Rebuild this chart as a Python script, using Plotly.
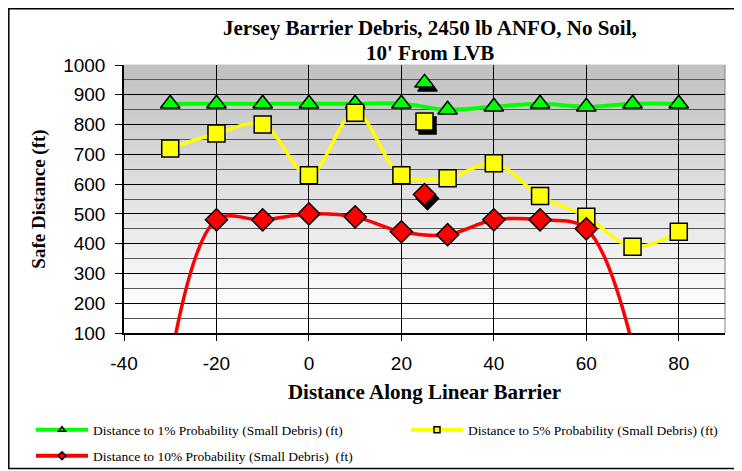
import plotly.graph_objects as go

# ---------------- data ----------------
x_pos = [-30, -20, -10, 0, 10, 20, 30, 40, 50, 60, 70, 80]
p1_small = [870, 870, 870, 870, 870, 870, 850, 860, 870, 860, 870, 870]
p5_small = [720, 770, 800, 630, 840, 630, 620, 670, 560, 490, 390, 440]
p10_small = [0, 480, 480, 500, 490, 440, 430, 480, 480, 450, 60, None]

x_special = [25]
p1_special = [940]
p5_special = [810]
p10_special = [565]

x_tick_vals = [-40, -20, 0, 20, 40, 60, 80]
x_tick_text = ["-40", "-20", "0", "20", "40", "60", "80"]

names = ["Distance to 1% Probability (Small Debris) (ft)",
         "Distance to 5% Probability (Small Debris) (ft)",
         "Distance to 10% Probability (Small Debris)  (ft)"]

title_lines = ["<b>Jersey Barrier Debris, 2450 lb ANFO, No Soil,</b>", "<b>10' From LVB</b>"]
x_title = "<b>Distance Along Linear Barrier</b>"
y_title = "<b>Safe Distance (ft)</b>"

# ---------------- style ----------------
OFF = 8                      # page body margin
W, H = 742 - OFF, 471 - OFF
ML, MR, MT, MB = 124 - OFF, 17, 65 - OFF, 138
XR = [-40, 90]
YR = [100, 1000]
plot_w = W - ML - MR
plot_h = H - MT - MB
dx_px, dy_px = 3, 4
x_shift = (XR[1] - XR[0]) / plot_w * dx_px
y_shift = (YR[1] - YR[0]) / plot_h * dy_px

serif = "Liberation Serif, Times New Roman, serif"
sans = "Liberation Sans, Arial, sans-serif"

def px_x(wx):  # window x -> paper x
    return (wx - OFF - ML) / plot_w

def px_y(wy):  # window y -> paper y
    return 1 - (wy - OFF - MT) / plot_h

fig = go.Figure()

mk_line = dict(color="black", width=1.5)
series = [
    (p1_small, p1_special, names[0], "#00ff00", "triangle-up", 4, "legend"),
    (p5_small, p5_special, names[1], "#ffff00", "square", 3.5, "legend2"),
    (p10_small, p10_special, names[2], "#ff0000", "diamond", 3.5, "legend3"),
]

for ys, _, nm, col, sym, lw, lg in series:
    fig.add_trace(go.Scatter(x=x_pos, y=ys, name=nm, mode="lines+markers", showlegend=False,
                             line=dict(color=col, width=lw, shape="spline"),
                             marker=dict(symbol=sym, size=17, color=col, line=mk_line)))

# shadows (on shifted overlay axes)
for _, sp, nm, col, sym, lw, lg in series:
    fig.add_trace(go.Scatter(x=x_special, y=sp, mode="markers", showlegend=False,
                             xaxis="x2", yaxis="y2", hoverinfo="skip",
                             marker=dict(symbol=sym, size=17, color="black",
                                         line=dict(color="black", width=1.5))))
# special markers
for _, sp, nm, col, sym, lw, lg in series:
    fig.add_trace(go.Scatter(x=x_special, y=sp, mode="markers", showlegend=False,
                             xaxis="x3", yaxis="y3", name=nm,
                             marker=dict(symbol=sym, size=17, color=col, line=mk_line)))

# legend entries (small legend symbols)
for _, _, nm, col, sym, lw, lg in series:
    fig.add_trace(go.Scatter(x=[None], y=[None], name=nm, mode="lines+markers", legend=lg,
                             line=dict(color=col, width=4),
                             marker=dict(symbol=sym, size=6, color=col,
                                         line=dict(color="black", width=1.5))))

# gradient background
shapes = []
n = 60
for i in range(n):
    f0, f1 = i / n, (i + 1) / n
    t = min(1.0, (1 - (f0 + f1) / 2) / 0.92)  # 0 at top, 1 near bottom
    v = int(round(192 + (255 - 192) * t))
    shapes.append(dict(type="rect", xref="paper", yref="paper", x0=0, x1=1, y0=f0, y1=f1 + 0.002,
                       fillcolor=f"rgb({v},{v},{v})", line=dict(width=0), layer="below"))
# right edge of plot area
shapes.append(dict(type="line", xref="paper", yref="paper", x0=1, x1=1, y0=0, y1=1,
                   line=dict(color="#808080", width=1), layer="below"))
# outer chart border
shapes.append(dict(type="rect", xref="paper", yref="paper",
                   x0=px_x(8.8), x1=px_x(736), y0=px_y(468.5), y1=px_y(8.8),
                   line=dict(color="black", width=1.5), fillcolor="rgba(0,0,0,0)", layer="above"))

annotations = [
    dict(text=title_lines[0], xref="paper", yref="paper", x=px_x(430), y=px_y(28),
         xanchor="center", yanchor="middle", showarrow=False,
         font=dict(family=serif, size=21, color="black")),
    dict(text=title_lines[1], xref="paper", yref="paper", x=px_x(430), y=px_y(53),
         xanchor="center", yanchor="middle", showarrow=False,
         font=dict(family=serif, size=21, color="black")),
]

hidden = dict(visible=False, showgrid=False, zeroline=False, fixedrange=True)
leg_common = dict(orientation="h", xref="paper", yref="paper", xanchor="left", yanchor="middle",
                  font=dict(family=serif, size=13.5, color="black"),
                  bgcolor="rgba(0,0,0,0)", itemwidth=52)

fig.update_layout(
    width=W, height=H,
    margin=dict(l=ML, r=MR, t=MT, b=MB, autoexpand=False),
    paper_bgcolor="white", plot_bgcolor="white",
    xaxis=dict(range=XR, tickvals=x_tick_vals, ticktext=x_tick_text,
               showgrid=True, gridcolor="black", gridwidth=1,
               zeroline=False, showline=True, linecolor="black", linewidth=1.5,
               ticks="outside", ticklen=6, tickcolor="black", ticklabelstandoff=6,
               tickfont=dict(family=sans, size=19, color="black"),
               title=dict(text=x_title, font=dict(family=serif, size=21, color="black"), standoff=12)),
    yaxis=dict(range=YR, dtick=100, showgrid=True, gridcolor="black", gridwidth=1,
               zeroline=False, showline=True, linecolor="black", linewidth=1.5,
               ticks="outside", ticklen=7, tickcolor="black", ticklabelstandoff=6,
               tickfont=dict(family=sans, size=19, color="black"),
               minor=dict(dtick=50, showgrid=True, gridcolor="#555555", gridwidth=1),
               title=dict(text=y_title, font=dict(family=serif, size=19, color="black"), standoff=13)),
    xaxis2=dict(range=[XR[0] - x_shift, XR[1] - x_shift], overlaying="x", **hidden),
    yaxis2=dict(range=[YR[0] + y_shift, YR[1] + y_shift], overlaying="y", **hidden),
    xaxis3=dict(range=XR, overlaying="x", **hidden),
    yaxis3=dict(range=YR, overlaying="y", **hidden),
    shapes=shapes,
    annotations=annotations,
    showlegend=True,
    legend=dict(x=px_x(31), y=px_y(430), **leg_common),
    legend2=dict(x=px_x(406), y=px_y(430), **leg_common),
    legend3=dict(x=px_x(31), y=px_y(456), **leg_common),
)

fig.write_html("out.html")
